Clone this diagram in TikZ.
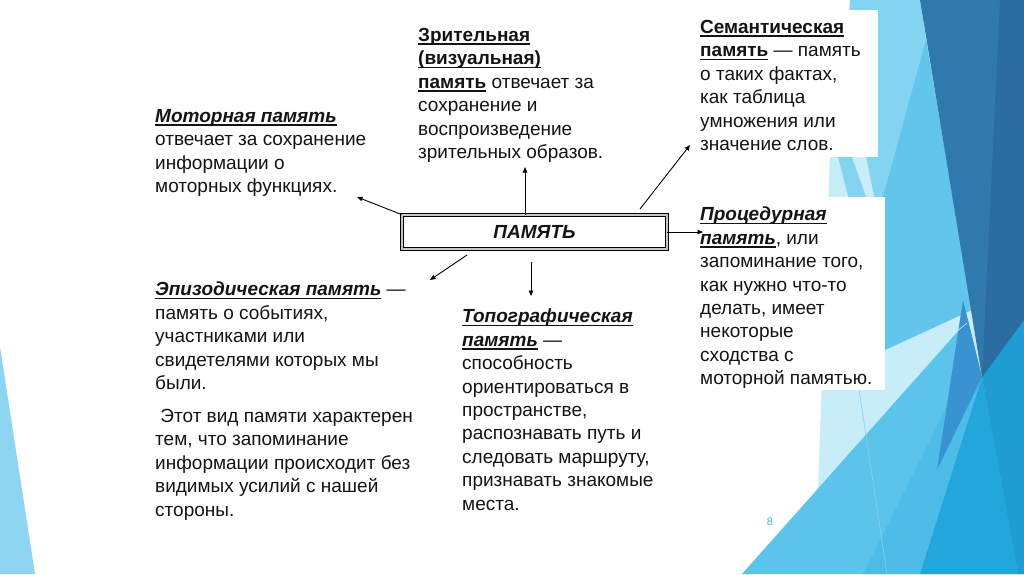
\documentclass[tikz,border=0pt]{standalone}
\usepackage{fontspec}
\setmainfont{Liberation Sans}
\usetikzlibrary{positioning,arrows.meta}
\definecolor{ink}{HTML}{141414}
\definecolor{pale}{HTML}{C9ECF9}
\definecolor{lblue}{HTML}{84D3F0}
\definecolor{mblue}{HTML}{62C5EB}
\definecolor{bblue}{HTML}{5CC3EA}
\definecolor{ablue}{HTML}{4DBDE8}
\definecolor{cblue}{HTML}{23A6DB}
\definecolor{rblue}{HTML}{1F9CD2}
\definecolor{vblue}{HTML}{3A93D1}
\definecolor{dkblue}{HTML}{3079AD}
\definecolor{dkblueb}{HTML}{2B6DA1}
\definecolor{wedge}{HTML}{8DD5F1}
\definecolor{pgnum}{HTML}{5AAEDD}
\newsavebox\ulsave
\newcommand\ulin[1]{\sbox\ulsave{#1}\rlap{\rule[-3.4pt]{\wd\ulsave}{1.6pt}}\usebox\ulsave}

\begin{document}
\begin{tikzpicture}[x=1pt,y=-1pt,
  txt/.style={anchor=north west,inner sep=0pt,align=left,text=ink,font=\fontsize{19}{23.4}\selectfont},
  arr/.style={line width=0.9pt,-{Triangle[length=5.5pt,width=4.5pt]}}]
  \useasboundingbox (0,0) rectangle (1024,574);
  \fill[white] (0,0) rectangle (1024,574);
  \fill[wedge] (0,347)--(35,574)--(0,574)--cycle;
  \fill[pale] (830,152)--(878,0)--(1024,0)--(1024,574)--(742,574)--(818,490)--cycle;
  \fill[bblue] (742,574)--(968,320)--(982,377)--(1024,574)--cycle;
  \fill[lblue] (850,0)--(920,0)--(963,290)--(885,340)--(838,157)--cycle;
  \fill[pale] (852,157)--(866,157)--(885,250)--cycle;
  \fill[mblue] (926,40)--(972,310)--(885,350)--(883,197)--cycle;
  \fill[ablue] (863,574)--(950,400)--(982,377)--(920,574)--cycle;
  \fill[cblue] (920,574)--(982,377)--(1018,574)--cycle;
  \fill[rblue] (982,377)--(1024,300)--(1024,574)--(1018,574)--cycle;
  \fill[vblue] (963,300)--(982,377)--(937,470)--cycle;
  \fill[dkblue] (920,0)--(1024,0)--(1024,320)--(982,377)--cycle;
  \fill[dkblueb] (1000,0)--(1024,0)--(1024,320)--(982,377)--cycle;
  \draw[line width=0.6pt,pale] (820,443)--(967,323);
  \draw[line width=0.6pt,lblue] (858,383)--(887,574);
  \fill[white] (693,10) rectangle (878,157);
  \fill[white] (688,197) rectangle (885,390);
  \node[draw=black,double=gray!45,double distance=2.4pt,line width=0.9pt,fill=white,minimum width=265pt,minimum height=34pt,inner sep=0pt,text=ink,font=\bfseries\itshape\fontsize{19}{22}\selectfont] (mem) at (534.5,232) {ПАМЯТЬ};
  \node[txt] (motor) at (155,109) {\ulin{\textbf{\textit{Моторная память}}}\\отвечает за сохранение\\информации о\\моторных функциях.};
  \node[txt] (visual) at (418,28) {\ulin{\textbf{Зрительная}}\\\ulin{\textbf{(визуальная)}}\\\ulin{\textbf{память}} отвечает за\\сохранение и\\воспроизведение\\зрительных образов.};
  \node[txt] (seman) at (700,20) {\ulin{\textbf{Семантическая}}\\\ulin{\textbf{память}} — память\\о таких фактах,\\как таблица\\умножения или\\значение слов.};
  \node[txt] (proced) at (700,207) {\ulin{\textbf{\textit{Процедурная}}}\\\ulin{\textbf{\textit{память}}}, или\\запоминание того,\\как нужно что-то\\делать, имеет\\некоторые\\сходства с\\моторной памятью.};
  \node[txt] (episod) at (155,282) {\ulin{\textbf{\textit{Эпизодическая память}}} —\\память о событиях,\\участниками или\\свидетелями которых мы\\были.\\[9.5pt]\ Этот вид памяти характерен\\тем, что запоминание\\информации происходит без\\видимых усилий с нашей\\стороны.};
  \node[txt] (topo) at (462,309) {\ulin{\textbf{\textit{Топографическая}}}\\\ulin{\textbf{\textit{память}}} —\\способность\\ориентироваться в\\пространстве,\\распознавать путь и\\следовать маршруту,\\признавать знакомые\\места.};
  \node[font=\fontsize{11}{11}\selectfont,text=pgnum] (pg) at (770,522) {8};
  \coordinate (motorTip) at (357,197);
  \coordinate (visTip) at (525,167);
  \coordinate (semTail) at (640,209);
  \coordinate (semTip) at (690,145);
  \coordinate (procTip) at (703,232);
  \coordinate (epiTail) at (467,255);
  \coordinate (epiTip) at (430,280);
  \coordinate (topoTail) at (531,262);
  \coordinate (topoTip) at (531,296);
  \draw[arr] (mem.north west) -- (motorTip);
  \draw[arr] ([xshift=-9.5pt]mem.north) -- (visTip);
  \draw[arr] (semTail) -- (semTip);
  \draw[arr] (mem.east) -- (procTip);
  \draw[arr] (epiTail) -- (epiTip);
  \draw[arr] (topoTail) -- (topoTip);
\end{tikzpicture}
\end{document}
